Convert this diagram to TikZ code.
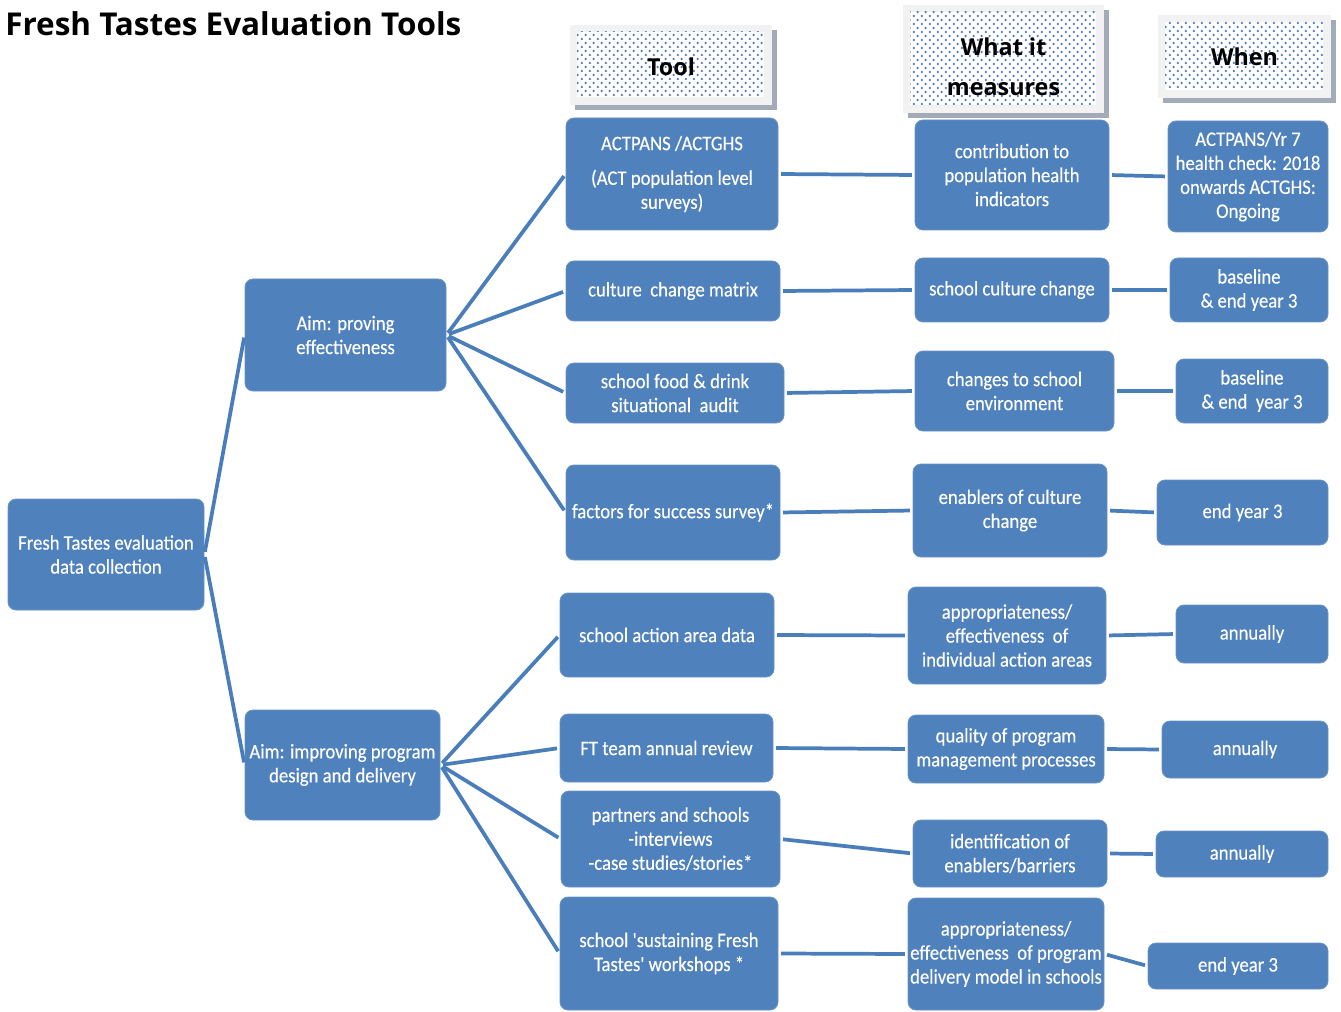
\documentclass[tikz,border=0pt]{standalone}
\usepackage{fontspec}
\usetikzlibrary{patterns}
\newfontfamily\boxfont[FakeStretch=0.905, FakeBold=0.3]{Carlito}
\newfontfamily\headfont{Open Sans}[BoldFont={Open Sans Bold}]
\definecolor{boxblue}{HTML}{4F81BD}
\definecolor{lineblue}{HTML}{4A7EBB}
\definecolor{hdrgray}{HTML}{F2F2F2}
\definecolor{shadowgray}{HTML}{A3AAB8}
\definecolor{dotblue}{HTML}{4A78BE}
\pgfdeclarepatternformonly{hdrdots}{\pgfpointorigin}{\pgfpoint{5.8pt}{6.3pt}}{\pgfpoint{5.8pt}{6.3pt}}{%
  \pgfpathcircle{\pgfpoint{1.45pt}{1.6pt}}{1pt}
  \pgfpathcircle{\pgfpoint{4.35pt}{4.75pt}}{1pt}
  \pgfusepath{fill}}
\tikzset{
  blbox/.style={fill=boxblue, draw=boxblue!85!white, line width=0.6pt, rounded corners=6pt,
    text=white, align=center, inner sep=1pt,
    font=\boxfont\fontsize{15.5}{18}\selectfont},
  conn/.style={draw=lineblue, line width=2.8pt, shorten <=2pt, shorten >=2pt},
  hdrtext/.style={font=\headfont\bfseries\fontsize{17.5}{30}\selectfont, align=center, text=black}
}
\newcommand\mybox[6]{\node[blbox, minimum width=#4*0.75pt, minimum height=#5*0.75pt] (#1) at (#2,#3) {#6};}
\newcommand\myhdr[7]{%
  \fill[shadowgray] (#2+5,#3+5) rectangle (#4+5,#5+5);
  \fill[hdrgray] (#2,#3) rectangle (#4,#5);
  \fill[white] (#2+7,#3+7) rectangle (#4-8,#5-8);
  \fill[pattern=hdrdots, pattern color=dotblue] (#2+7,#3+7) rectangle (#4-8,#5-8);
  \node[hdrtext, yshift=#7] (#1) at ({(#2+#4)/2},{(#3+#5)/2}) {#6};}
\begin{document}
\begin{tikzpicture}[x=0.75pt, y=-0.75pt]
\useasboundingbox (0,0) rectangle (1341,1012);
\fill[white] (0,0) rectangle (1341,1012);

\node[anchor=west, font=\headfont\bfseries\fontsize{23.6}{28}\selectfont, inner sep=0pt] (title) at (5,24) {Fresh Tastes Evaluation Tools};

\myhdr{htool}{570}{25}{772}{105}{Tool}{-1.5pt}
\myhdr{hmeas}{903}{5}{1104}{113}{What it\\measures}{-6pt}
\myhdr{hwhen}{1158}{15}{1331}{98}{When}{0pt}

\mybox{root}{106}{554.5}{196}{111}{Fresh Tastes evaluation\\data collection}
\mybox{aim1}{345.5}{335}{201}{112}{Aim: proving\\effectiveness}
\mybox{aim2}{342.5}{765}{195}{110}{Aim: improving program\\design and delivery}

\mybox{t1}{672}{174}{212}{112}{ACTPANS /ACTGHS\\[8pt](ACT population level\\surveys)}
\mybox{t2}{673}{291}{214}{60}{culture\ \ change matrix}
\mybox{t3}{675}{393}{218}{60}{school food \& drink\\situational\ \ audit}
\mybox{t4}{673}{512.5}{214}{95}{factors for success survey*}
\mybox{t5}{667}{635}{214}{84}{school action area data}
\mybox{t6}{666.5}{748}{213}{68}{FT team annual review}
\mybox{t7}{670.5}{839}{219}{96}{partners and schools\\-interviews\\-case studies/stories*}
\mybox{t8}{669}{953.5}{218}{113}{school 'sustaining Fresh\\Tastes' workshops *}

\mybox{m1}{1012}{175}{194}{110}{contribution to\\population health\\indicators}
\mybox{m2}{1012}{290}{194}{64}{school culture change}
\mybox{m3}{1014.5}{391}{199}{80}{changes to school\\environment}
\mybox{m4}{1010}{510.5}{194}{93}{enablers of culture\\change}
\mybox{m5}{1007}{635.5}{198}{97}{appropriateness/\\effectiveness\ \ of\\individual action areas}
\mybox{m6}{1006}{749}{196}{68}{quality of program\\management processes}
\mybox{m7}{1010}{853.5}{194}{67}{identification of\\enablers/barriers}
\mybox{m8}{1006}{954}{196}{112}{appropriateness/\\effectiveness\ \ of program\\delivery model in schools}

\mybox{w1}{1248}{176.5}{160}{111}{ACTPANS/Yr 7\\health check: 2018\\onwards ACTGHS:\\Ongoing}
\mybox{w2}{1249}{290}{158}{64}{baseline\\\& end year 3}
\mybox{w3}{1252}{391}{152}{64}{baseline\\\& end\ \ year 3}
\mybox{w4}{1242.5}{512.5}{171}{65}{end year 3}
\mybox{w5}{1252}{634}{152}{58}{annually}
\mybox{w6}{1245}{749.5}{166}{57}{annually}
\mybox{w7}{1242}{854}{172}{46}{annually}
\mybox{w8}{1238}{966}{180}{46}{end year 3}

\draw[conn] (root.east) -- (aim1.west);
\draw[conn] (root.east) -- (aim2.west);
\foreach \t in {t1,t2,t3,t4} \draw[conn] (aim1.east) -- (\t.west);
\foreach \t in {t5,t6,t7,t8} \draw[conn] (aim2.east) -- (\t.west);
\foreach \i in {1,...,8} {
  \draw[conn] (t\i.east) -- (m\i.west);
  \draw[conn] (m\i.east) -- (w\i.west);
}
\end{tikzpicture}
\end{document}
